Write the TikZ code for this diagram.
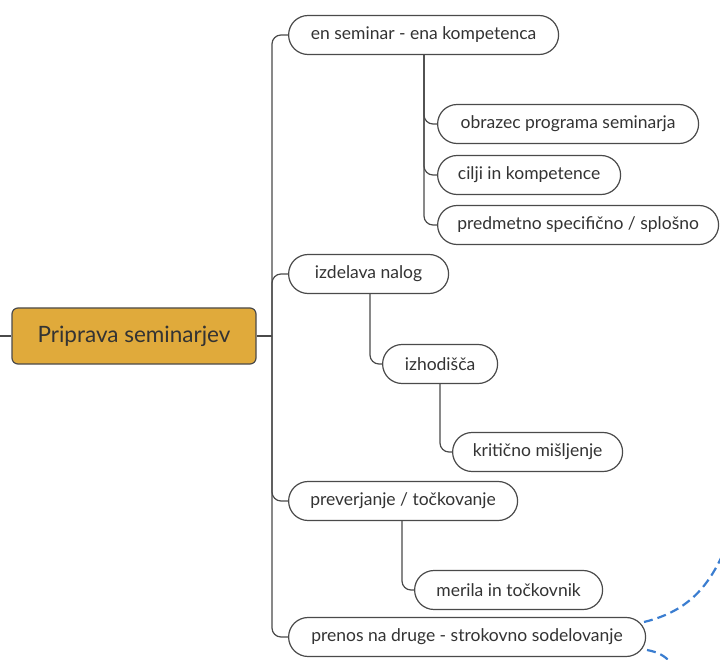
\documentclass[tikz,border=0pt]{standalone}
\usepackage{fontspec}
\setmainfont{Lato}
\usetikzlibrary{shapes.misc}
\definecolor{gold}{HTML}{E0AA3B}
\definecolor{txt}{HTML}{333333}
\definecolor{ln}{HTML}{4A4A4A}
\definecolor{blu}{HTML}{3A7DD0}
\tikzset{
  pill/.style={rounded rectangle, draw=ln, line width=1.2pt, fill=white, text=txt,
    minimum height=39pt, inner xsep=0pt, anchor=west, font=\fontsize{17.5}{20}\selectfont},
  rootbox/.style={rectangle, rounded corners=6pt, draw=ln, line width=1.2pt, fill=gold, text=txt,
    minimum width=244pt, minimum height=56pt, font=\fontsize{22.5}{26}\selectfont},
  conn/.style={draw=ln, line width=1.2pt, rounded corners=9pt},
  bdash/.style={draw=blu, line width=2.2pt, dash pattern=on 9pt off 5pt}
}
\begin{document}
\begin{tikzpicture}[x=1pt,y=-1pt]
\useasboundingbox (0,0) rectangle (720,660);
\node[rootbox] (root) at (134,336) {Priprava seminarjev};

\node[pill, minimum width=270pt] (c1) at (288,35) {en seminar - ena kompetenca};
\node[pill, minimum width=261pt] (s11) at (437,124) {obrazec programa seminarja};
\node[pill, minimum width=183pt] (s12) at (437,175) {cilji in kompetence};
\node[pill, minimum width=281pt] (s13) at (437,225) {predmetno specifično / splošno};

\node[pill, minimum width=160pt] (c2) at (288,274) {izdelava nalog};
\node[pill, minimum width=115pt] (s21) at (382,364) {izhodišča};
\node[pill, minimum width=170pt] (s22) at (452,452) {kritično mišljenje};

\node[pill, minimum width=229pt] (c3) at (288,501) {preverjanje / točkovanje};
\node[pill, minimum width=188pt] (s31) at (414,590) {merila in točkovnik};

\node[pill, minimum width=357pt] (c4) at (288,637) {prenos na druge - strokovno sodelovanje};

\coordinate (stub) at (0,336);
\coordinate (t) at (272,336);
\draw[conn] (stub) -- (root.west);
\draw[conn] (root.east) -- (t);
\draw[conn] (t) |- (c1.west);
\draw[conn] (t) |- (c2.west);
\draw[conn] (t) |- (c3.west);
\draw[conn] (t) |- (c4.west);

\coordinate (b1) at (424,55);
\draw[conn] (b1) |- (s11.west);
\draw[conn] (b1) |- (s12.west);
\draw[conn] (b1) |- (s13.west);

\coordinate (b2) at (370,294);
\draw[conn] (b2) |- (s21.west);
\coordinate (b3) at (440,383);
\draw[conn] (b3) |- (s22.west);

\coordinate (b4) at (402,520);
\draw[conn] (b4) |- (s31.west);

\coordinate (e1) at (722,556);
\coordinate (e2) at (670,662);
\coordinate (d1) at (644,622);
\coordinate (d2) at (647,650);
\draw[bdash] (d1) .. controls (685,612) and (706,590) .. (e1);
\draw[bdash] (d2) .. controls (658,652) and (665,656) .. (e2);
\end{tikzpicture}
\end{document}
